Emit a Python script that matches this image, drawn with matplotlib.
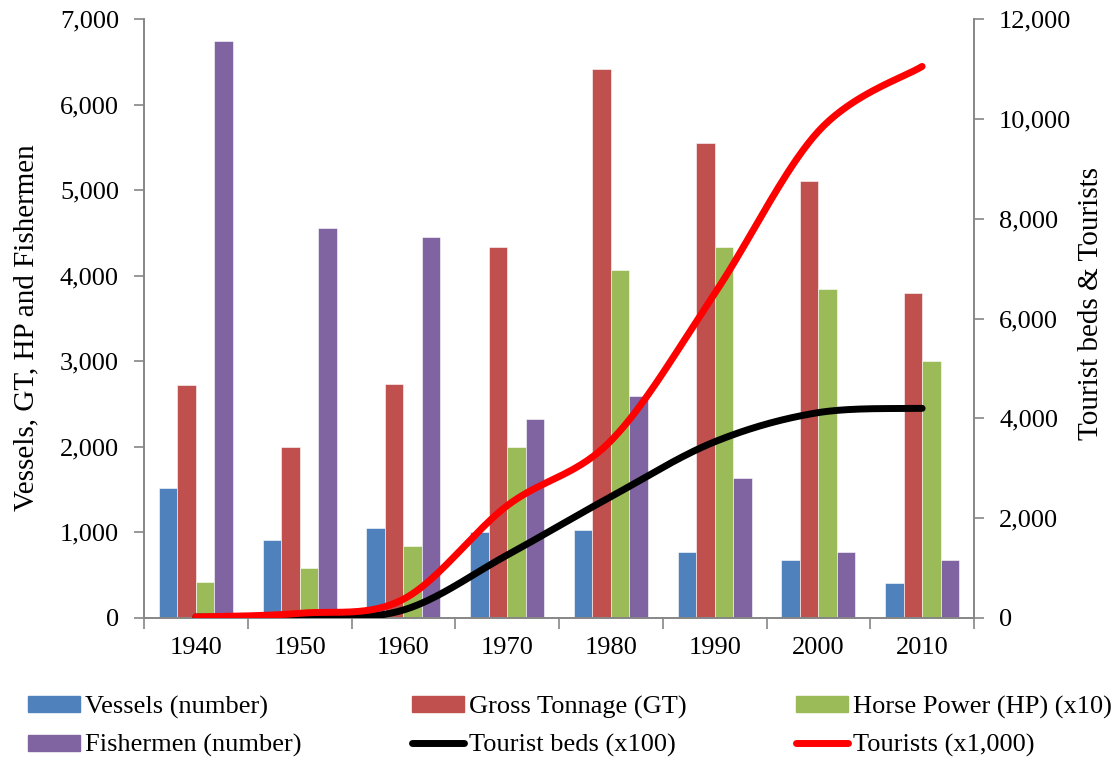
import numpy as np
import matplotlib
matplotlib.use("Agg")
import matplotlib.pyplot as plt
from matplotlib.ticker import FuncFormatter, FixedLocator
from matplotlib.patches import Patch
from matplotlib.lines import Line2D

plt.rcParams['font.family'] = ['Liberation Serif', 'DejaVu Serif']

years = ['1940', '1950', '1960', '1970', '1980', '1990', '2000', '2010']
vessels = [1520, 910, 1050, 1000, 1030, 770, 680, 410]
gross_tonnage = [2720, 2000, 2730, 4340, 6410, 5555, 5105, 3800]
horse_power = [420, 590, 840, 2000, 4070, 4330, 3840, 3000]
fishermen = [6740, 4560, 4450, 2330, 2590, 1640, 770, 675]
tourist_beds = [20, 10, 160, 1260, 2430, 3530, 4115, 4200]
tourists = [20, 94, 376, 2250, 3550, 6500, 9750, 11050]

bar_series = [
    ('Vessels (number)', vessels, '#4F81BD'),
    ('Gross Tonnage (GT)', gross_tonnage, '#C0504D'),
    ('Horse Power (HP) (x10)', horse_power, '#9BBB59'),
    ('Fishermen (number)', fishermen, '#8064A2'),
]
line_series = [
    ('Tourist beds (x100)', tourist_beds, '#000000'),
    ('Tourists (x1,000)', tourists, '#FF0000'),
]


def smooth(xs, ys, n=40):
    # Catmull-Rom rendering through the given points (like Excel smoothed lines)
    xs = np.asarray(xs, float)
    ys = np.asarray(ys, float)
    px = np.concatenate([[xs[0]], xs, [xs[-1]]])
    py = np.concatenate([[ys[0]], ys, [ys[-1]]])
    ox, oy = [], []
    t = np.linspace(0, 1, n)
    for i in range(1, len(px) - 2):
        p0x, p1x, p2x, p3x = px[i - 1], px[i], px[i + 1], px[i + 2]
        p0y, p1y, p2y, p3y = py[i - 1], py[i], py[i + 1], py[i + 2]
        c1x, c1y = p1x + (p2x - p0x) / 6, p1y + (p2y - p0y) / 6
        c2x, c2y = p2x - (p3x - p1x) / 6, p2y - (p3y - p1y) / 6
        bx = (1 - t) ** 3 * p1x + 3 * (1 - t) ** 2 * t * c1x + 3 * (1 - t) * t ** 2 * c2x + t ** 3 * p2x
        by = (1 - t) ** 3 * p1y + 3 * (1 - t) ** 2 * t * c1y + 3 * (1 - t) * t ** 2 * c2y + t ** 3 * p2y
        ox.extend(bx)
        oy.extend(by)
    return np.array(ox), np.array(oy)


W, H = 1117, 761
fig = plt.figure(figsize=(W / 100, H / 100), dpi=100)
x0, x1, y0, y1 = 144, 974, 19, 618
ax = fig.add_axes([x0 / W, 1 - y1 / H, (x1 - x0) / W, (y1 - y0) / H])

x = np.arange(len(years))
bw = 0.178
for i, (lab, vals, col) in enumerate(bar_series):
    ax.bar(x + (i - 1.5) * bw, vals, width=bw, color=col, edgecolor='white', linewidth=0.4, label=lab, zorder=2)

ax.set_xlim(-0.5, len(years) - 0.5)
ax.set_ylim(0, 7000)
ax.set_yticks(np.arange(0, 7001, 1000))
fmt = FuncFormatter(lambda v, p: f'{int(v):,}')
ax.yaxis.set_major_formatter(fmt)
ax.xaxis.set_major_locator(FixedLocator(np.arange(-0.5, len(years), 1.0)))
ax.xaxis.set_minor_locator(FixedLocator(x))
ax.set_xticklabels([], minor=False)
ax.set_xticklabels(years, minor=True)

gray = '#868686'
for s in ['left', 'bottom', 'right']:
    ax.spines[s].set_color(gray)
    ax.spines[s].set_linewidth(1.2)
ax.spines['top'].set_visible(False)
ax.tick_params(axis='x', which='major', length=8, width=1.2, color=gray, direction='out')
ax.tick_params(axis='x', which='minor', length=0, pad=14, labelsize=19)
ax.tick_params(axis='y', length=7, width=1.2, color=gray, direction='out', pad=11, labelsize=19)
ax.set_ylabel('Vessels, GT, HP and Fishermen', fontsize=21)

ax2 = ax.twinx()
ax2.set_ylim(0, 12000)
ax2.set_yticks(np.arange(0, 12001, 2000))
ax2.yaxis.set_major_formatter(fmt)
for s in ['left', 'bottom', 'right']:
    ax2.spines[s].set_color(gray)
    ax2.spines[s].set_linewidth(1.2)
ax2.spines['top'].set_visible(False)
ax2.tick_params(axis='y', length=7, width=1.2, color=gray, direction='out', pad=11, labelsize=19)
ax2.set_ylabel('Tourist beds & Tourists', fontsize=21)

for lab, vals, col in line_series:
    sx, sy = smooth(x, vals)
    ax2.plot(sx, sy, color=col, lw=5, solid_capstyle='round', label=lab, zorder=3)

# axis label positions in figure pixels
ax.yaxis.set_label_coords((39 - x0) / (x1 - x0), (y1 - 328) / (y1 - y0))
ax2.yaxis.set_label_coords((1078 - x0) / (x1 - x0), (y1 - 303) / (y1 - y0))

# legend in three fixed columns
handles = [Patch(color=c) for _, _, c in bar_series] + \
          [Line2D([], [], color=c, lw=5, solid_capstyle='round') for _, _, c in line_series]
labels = [l for l, _, _ in bar_series] + [l for l, _, _ in line_series]
cols = [(0, 3), (1, 4), (2, 5)]
col_x = [28, 412, 796]
for cx, (a, b) in zip(col_x, cols):
    leg = fig.legend([handles[a], handles[b]], [labels[a], labels[b]],
                     loc='upper left', bbox_to_anchor=(cx / W, 1 - 696 / H),
                     frameon=False, fontsize=19, handlelength=1.97, handleheight=0.55,
                     handletextpad=0.2, borderpad=0, borderaxespad=0, labelspacing=0.58)

fig.savefig('out.png', dpi=100)
